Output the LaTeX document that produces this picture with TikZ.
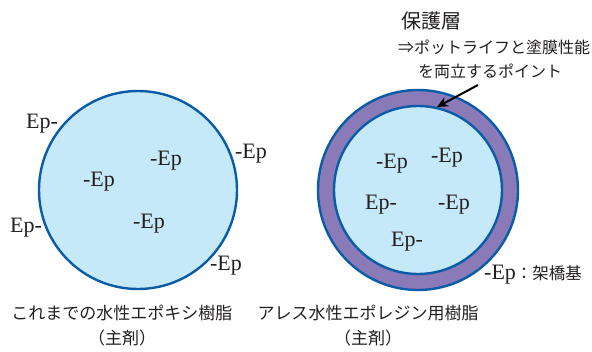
\documentclass[tikz,border=0pt]{standalone}
\usepackage{fontspec}
\setmainfont{Liberation Serif}
\newfontfamily\jp{Noto Sans CJK JP}
\usetikzlibrary{arrows.meta}
\definecolor{fillblue}{HTML}{C6E9F9}
\definecolor{lineblue}{HTML}{0A5CA8}
\definecolor{ringpurple}{HTML}{8A7AB8}
\definecolor{txt}{HTML}{231F20}
\begin{document}
\begin{tikzpicture}[x=1pt,y=-1pt,
  ep/.style={font=\fontsize{22}{22}\selectfont, text=txt, inner sep=0pt},
  jlabel/.style={font=\jp\fontsize{17}{17}\selectfont, text=txt, inner sep=0pt},
  circ/.style={draw=lineblue, line width=2.4pt, fill=fillblue}]
\useasboundingbox (0,0) rectangle (592,351);
% left particle
\node[circ, circle, minimum size=198pt, inner sep=0pt] (L) at (138,190) {};
% right particle
\node[circle, draw=lineblue, line width=2.4pt, fill=ringpurple, minimum size=200pt, inner sep=0pt] (Ro) at (418,190) {};
\node[circ, circle, minimum size=168pt, inner sep=0pt] (Ri) at (418,190) {};
% left labels
\node[ep] (l1) at (42,124) {Ep-};
\node[ep] (l2) at (251,154) {-Ep};
\node[ep] (l3) at (166,161) {-Ep};
\node[ep] (l4) at (99,182) {-Ep};
\node[ep] (l5) at (26,228) {Ep-};
\node[ep] (l6) at (149,224) {-Ep};
\node[ep] (l7) at (226,266) {-Ep};
% right labels
\node[ep] (r1) at (392,164) {-Ep};
\node[ep] (r2) at (447,158) {-Ep};
\node[ep] (r3) at (381,205) {Ep-};
\node[ep] (r4) at (454,205) {-Ep};
\node[ep] (r5) at (407,242) {Ep-};
\node[ep, anchor=west] (key) at (484,275) {-Ep\jp\fontsize{16.5}{16.5}\selectfont ：架橋基};
% top annotation
\node[jlabel, anchor=west, font=\jp\fontsize{20}{20}\selectfont] (t1) at (401,21) {保護層};
\node[jlabel, anchor=west, font=\jp\fontsize{16}{16}\selectfont] (t2) at (398,47) {⇒ポットライフと塗膜性能};
\node[jlabel, font=\jp\fontsize{16}{16}\selectfont] (t3) at (490,71) {を両立するポイント};
\coordinate (as) at (478,85);
\coordinate (ae) at (437,107);
\draw[line width=2pt, -{Stealth[length=11pt,width=10pt]}] (as) -- (ae);
% captions
\node[jlabel] (c1) at (122,313) {これまでの水性エポキシ樹脂};
\node[jlabel] (c2) at (122,338) {（主剤）};
\node[jlabel] (c3) at (368,313) {アレス水性エポレジン用樹脂};
\node[jlabel] (c4) at (368,338) {（主剤）};
\end{tikzpicture}
\end{document}
